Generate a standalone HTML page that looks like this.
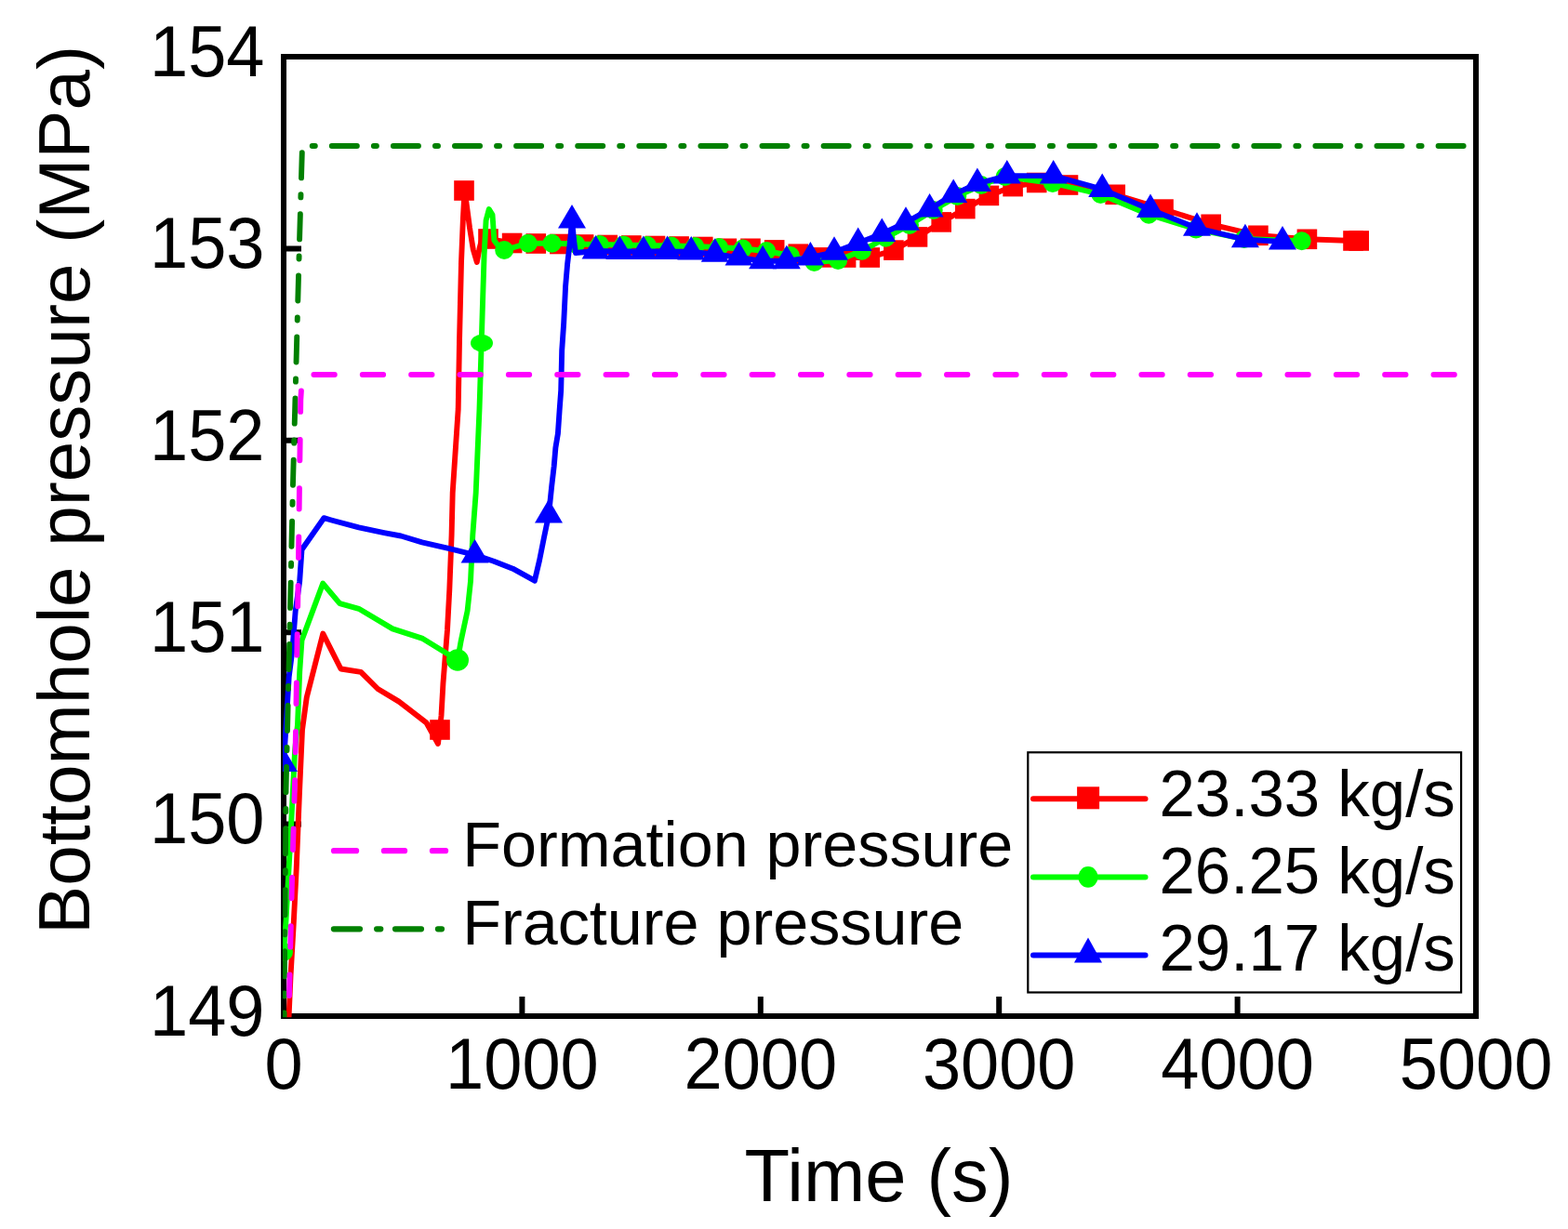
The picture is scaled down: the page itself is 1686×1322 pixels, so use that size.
<!DOCTYPE html><html><head><meta charset="utf-8"><title>Bottomhole pressure vs time</title><style>html,body{margin:0;padding:0;background:#fff;}svg{display:block;}text{font-family:"Liberation Sans",Arial,sans-serif;fill:#000;}</style></head><body>
<svg width="1686" height="1322" viewBox="0 0 1686 1322">
<rect width="1686" height="1322" fill="#fff"/>
<rect x="305" y="61" width="1282" height="1032" fill="none" stroke="#000" stroke-width="6"/>
<path d="M305 61H324 M305 1093V1072 M305 267.4H324 M561.4 1093V1072 M305 473.8H324 M817.8 1093V1072 M305 680.2H324 M1074.2 1093V1072 M305 886.6H324 M1330.6 1093V1072 M305 1093H324 M1587 1093V1072" stroke="#000" stroke-width="6" fill="none"/>
<defs><clipPath id="pa"><rect x="304.1" y="59.8" width="1284" height="1034.5"/></clipPath></defs>
<g clip-path="url(#pa)" stroke-linejoin="round" stroke-linecap="butt">
<polyline points="310.3,1100 312.5,1050 315.5,998 318.7,934.5 321.9,855 325,785 329.8,750 347.3,681.6 366.5,719.5 388,722.9 406.2,741 428.9,754.6 458.4,777.3 471,800 474.5,770 476.5,734.2 481,677.5 483.3,634.4 485.6,575.4 486.7,530 492.7,440 494,366.8 496,282.3 498,233.1 499.5,206 501.5,218.3 505,245 508.8,268.5 512.8,282 515.7,266.5 518,258 525,257 550.6,261.5 576.3,262 601.9,262.5 627.6,263 653.2,263.5 678.8,264 704.5,264.5 730.1,265 755.8,265.5 781.4,267.3 807,267.3 832.7,268.9 858.3,273.2 884,276.9 909.6,277 935.2,277 960.9,269.1 986.5,254.9 1012.2,238.9 1037.8,224.6 1063.4,210.4 1089.1,200.6 1114.7,196.5 1148.5,199 1199.2,209.3 1251,225.1 1302.2,241.3 1352.9,253.3 1405.4,257.3 1455,259 1461.2,259" fill="none" stroke="#ff0000" stroke-width="5.9"/>
<g><rect x="462.2" y="774.2" width="21.6" height="21.6" fill="#ff0000"/><rect x="488.2" y="194.2" width="21.6" height="21.6" fill="#ff0000"/><rect x="514.2" y="246.2" width="21.6" height="21.6" fill="#ff0000"/><rect x="539.8" y="250.7" width="21.6" height="21.6" fill="#ff0000"/><rect x="565.5" y="251.2" width="21.6" height="21.6" fill="#ff0000"/><rect x="591.1" y="251.7" width="21.6" height="21.6" fill="#ff0000"/><rect x="616.8" y="252.2" width="21.6" height="21.6" fill="#ff0000"/><rect x="642.4" y="252.7" width="21.6" height="21.6" fill="#ff0000"/><rect x="668" y="253.2" width="21.6" height="21.6" fill="#ff0000"/><rect x="693.7" y="253.7" width="21.6" height="21.6" fill="#ff0000"/><rect x="719.3" y="254.2" width="21.6" height="21.6" fill="#ff0000"/><rect x="745" y="254.7" width="21.6" height="21.6" fill="#ff0000"/><rect x="770.6" y="256.5" width="21.6" height="21.6" fill="#ff0000"/><rect x="796.2" y="256.5" width="21.6" height="21.6" fill="#ff0000"/><rect x="821.9" y="258.1" width="21.6" height="21.6" fill="#ff0000"/><rect x="847.5" y="262.4" width="21.6" height="21.6" fill="#ff0000"/><rect x="873.2" y="266.1" width="21.6" height="21.6" fill="#ff0000"/><rect x="898.8" y="266.2" width="21.6" height="21.6" fill="#ff0000"/><rect x="924.4" y="266.2" width="21.6" height="21.6" fill="#ff0000"/><rect x="950.1" y="258.3" width="21.6" height="21.6" fill="#ff0000"/><rect x="975.7" y="244.1" width="21.6" height="21.6" fill="#ff0000"/><rect x="1001.4" y="228.1" width="21.6" height="21.6" fill="#ff0000"/><rect x="1027" y="213.8" width="21.6" height="21.6" fill="#ff0000"/><rect x="1052.6" y="199.6" width="21.6" height="21.6" fill="#ff0000"/><rect x="1078.3" y="189.8" width="21.6" height="21.6" fill="#ff0000"/><rect x="1103.9" y="185.7" width="21.6" height="21.6" fill="#ff0000"/><rect x="1137.7" y="188.2" width="21.6" height="21.6" fill="#ff0000"/><rect x="1188.4" y="198.5" width="21.6" height="21.6" fill="#ff0000"/><rect x="1240.2" y="214.3" width="21.6" height="21.6" fill="#ff0000"/><rect x="1291.4" y="230.5" width="21.6" height="21.6" fill="#ff0000"/><rect x="1342.1" y="242.5" width="21.6" height="21.6" fill="#ff0000"/><rect x="1394.6" y="246.5" width="21.6" height="21.6" fill="#ff0000"/><rect x="1444.2" y="248.2" width="21.6" height="21.6" fill="#ff0000"/><rect x="1450.4" y="248.2" width="21.6" height="21.6" fill="#ff0000"/></g>
<polyline points="305,1024 307.5,990 312.3,902.7 317.1,807 320,779.6 322.2,722.9 324.5,688.8 347.2,627.6 365.3,649.1 385.8,654.8 422.1,676.4 453.8,686.6 492,710 495.8,688.8 502.6,657 506,625.3 508.3,575.4 511.7,530 515.5,440 517.7,368.8 518.7,335.4 520.6,274.4 522.6,237 525.8,225 529.5,231 531.4,258.7 535.4,264 542.2,269 567.8,261.7 593.5,261.7 619.1,262.5 644.8,263 670.4,263.5 696,264 721.7,264.5 747.3,265 773,266 798.6,267.5 824.2,270 849.9,275 875.5,282 901.1,280 926.8,269.8 952.4,255.8 978,242 1003.7,226 1029.3,211 1055,199 1080.6,190 1131.9,197 1183.4,209 1235.2,230.7 1286,246.5 1337.8,257 1399.7,259.3" fill="none" stroke="#00ff00" stroke-width="5.9"/>
<g><circle cx="305" cy="1024" r="10" fill="#00ff00"/><circle cx="542.2" cy="269" r="10" fill="#00ff00"/><circle cx="567.8" cy="261.7" r="10" fill="#00ff00"/><circle cx="593.5" cy="261.7" r="10" fill="#00ff00"/><circle cx="619.1" cy="262.5" r="10" fill="#00ff00"/><circle cx="644.8" cy="263" r="10" fill="#00ff00"/><circle cx="670.4" cy="263.5" r="10" fill="#00ff00"/><circle cx="696" cy="264" r="10" fill="#00ff00"/><circle cx="721.7" cy="264.5" r="10" fill="#00ff00"/><circle cx="747.3" cy="265" r="10" fill="#00ff00"/><circle cx="773" cy="266" r="10" fill="#00ff00"/><circle cx="798.6" cy="267.5" r="10" fill="#00ff00"/><circle cx="824.2" cy="270" r="10" fill="#00ff00"/><circle cx="849.9" cy="275" r="10" fill="#00ff00"/><circle cx="875.5" cy="282" r="10" fill="#00ff00"/><circle cx="901.1" cy="280" r="10" fill="#00ff00"/><circle cx="926.8" cy="269.8" r="10" fill="#00ff00"/><circle cx="952.4" cy="255.8" r="10" fill="#00ff00"/><circle cx="978" cy="242" r="10" fill="#00ff00"/><circle cx="1003.7" cy="226" r="10" fill="#00ff00"/><circle cx="1029.3" cy="211" r="10" fill="#00ff00"/><circle cx="1055" cy="199" r="10" fill="#00ff00"/><circle cx="1080.6" cy="190" r="10" fill="#00ff00"/><circle cx="1131.9" cy="197" r="10" fill="#00ff00"/><circle cx="1183.4" cy="209" r="10" fill="#00ff00"/><circle cx="1235.2" cy="230.7" r="10" fill="#00ff00"/><circle cx="1286" cy="246.5" r="10" fill="#00ff00"/><circle cx="1337.8" cy="257" r="10" fill="#00ff00"/><circle cx="1399.7" cy="259.3" r="10" fill="#00ff00"/><ellipse cx="492" cy="710" rx="12" ry="11.8" fill="#00ff00"/><ellipse cx="518" cy="369" rx="12" ry="9.2" fill="#00ff00"/></g>
<polyline points="305,821.5 307,790 310.7,728 314.3,700 317.7,657 322.2,625.3 324.5,591.3 348.3,557.2 356.3,559.5 385.8,567.4 413,573.1 431.1,576.5 453.8,583.3 483.3,590.1 510.6,596.9 531,603.7 551.4,611.7 574.9,624.7 580,603 585,578 590,554 593.2,523 595.7,501.5 597.4,481.6 599.9,466.6 601.6,441.6 603.2,420 604.2,376.7 606.2,347.2 608.1,307.8 610.1,284.2 613.1,258.7 615,237 617.5,262 619,272 640.6,270 666.3,270.5 691.9,270.5 717.6,270.5 743.2,271 768.8,273.3 794.5,277 820.1,280.8 845.8,280.8 871.4,277 897,271.3 922.7,261.5 948.3,251.4 974,239.3 999.6,225 1025.2,209.4 1050.9,197.5 1082.8,189.1 1132.7,189.1 1185.2,203.6 1237,225.5 1287,245.3 1338.9,257.7 1379,259.9" fill="none" stroke="#0000ff" stroke-width="5.9"/>
<g><polygon points="305,804.5 320,830 290,830" fill="#0000ff"/><polygon points="510.6,579.9 525.6,605.4 495.6,605.4" fill="#0000ff"/><polygon points="590,537 605,562.5 575,562.5" fill="#0000ff"/><polygon points="615,220 630,245.5 600,245.5" fill="#0000ff"/><polygon points="640.6,253 655.6,278.5 625.6,278.5" fill="#0000ff"/><polygon points="666.3,253.5 681.3,279 651.3,279" fill="#0000ff"/><polygon points="691.9,253.5 706.9,279 676.9,279" fill="#0000ff"/><polygon points="717.6,253.5 732.6,279 702.6,279" fill="#0000ff"/><polygon points="743.2,254 758.2,279.5 728.2,279.5" fill="#0000ff"/><polygon points="768.8,256.3 783.8,281.8 753.8,281.8" fill="#0000ff"/><polygon points="794.5,260 809.5,285.5 779.5,285.5" fill="#0000ff"/><polygon points="820.1,263.8 835.1,289.3 805.1,289.3" fill="#0000ff"/><polygon points="845.8,263.8 860.8,289.3 830.8,289.3" fill="#0000ff"/><polygon points="871.4,260 886.4,285.5 856.4,285.5" fill="#0000ff"/><polygon points="897,254.3 912,279.8 882,279.8" fill="#0000ff"/><polygon points="922.7,244.5 937.7,270 907.7,270" fill="#0000ff"/><polygon points="948.3,234.4 963.3,259.9 933.3,259.9" fill="#0000ff"/><polygon points="974,222.3 989,247.8 959,247.8" fill="#0000ff"/><polygon points="999.6,208 1014.6,233.5 984.6,233.5" fill="#0000ff"/><polygon points="1025.2,192.4 1040.2,217.9 1010.2,217.9" fill="#0000ff"/><polygon points="1050.9,180.5 1065.9,206 1035.9,206" fill="#0000ff"/><polygon points="1082.8,172.1 1097.8,197.6 1067.8,197.6" fill="#0000ff"/><polygon points="1132.7,172.1 1147.7,197.6 1117.7,197.6" fill="#0000ff"/><polygon points="1185.2,186.6 1200.2,212.1 1170.2,212.1" fill="#0000ff"/><polygon points="1237,208.5 1252,234 1222,234" fill="#0000ff"/><polygon points="1287,228.3 1302,253.8 1272,253.8" fill="#0000ff"/><polygon points="1338.9,240.7 1353.9,266.2 1323.9,266.2" fill="#0000ff"/><polygon points="1379,242.9 1394,268.4 1364,268.4" fill="#0000ff"/></g>
<polyline points="305.5,1100 307.5,850 311,700 315,520 318.8,379 322,260 325,157 1590,157" fill="none" stroke="#008000" stroke-width="5.9" stroke-linecap="round" stroke-dasharray="27.1 17.95 3.1 17.95" stroke-dashoffset="16.5"/>
<polyline points="310.5,1100 311,1071 313.9,950 317.1,839 318.7,743.6 319.5,692 321,600 322,520 323.3,430 325,403 1590,403" fill="none" stroke="#ff00ff" stroke-width="5.9" stroke-linecap="round" stroke-dasharray="22.4 29.95" stroke-dashoffset="23.3"/>
</g>
<text transform="translate(284.5 81.8) scale(1 1.04)" font-size="74" text-anchor="end">154</text>
<text transform="translate(284.5 288.2) scale(1 1.04)" font-size="74" text-anchor="end">153</text>
<text transform="translate(284.5 494.6) scale(1 1.04)" font-size="74" text-anchor="end">152</text>
<text transform="translate(284.5 701) scale(1 1.04)" font-size="74" text-anchor="end">151</text>
<text transform="translate(284.5 907.4) scale(1 1.04)" font-size="74" text-anchor="end">150</text>
<text transform="translate(284.5 1113.8) scale(1 1.04)" font-size="74" text-anchor="end">149</text>
<text transform="translate(305 1171.3) scale(1 1.04)" font-size="74" text-anchor="middle">0</text>
<text transform="translate(561.4 1171.3) scale(1 1.04)" font-size="74" text-anchor="middle">1000</text>
<text transform="translate(817.8 1171.3) scale(1 1.04)" font-size="74" text-anchor="middle">2000</text>
<text transform="translate(1074.2 1171.3) scale(1 1.04)" font-size="74" text-anchor="middle">3000</text>
<text transform="translate(1330.6 1171.3) scale(1 1.04)" font-size="74" text-anchor="middle">4000</text>
<text transform="translate(1587 1171.3) scale(1 1.04)" font-size="74" text-anchor="middle">5000</text>
<text transform="translate(945 1292)" font-size="79.6" text-anchor="middle">Time (s)</text>
<text transform="translate(95.7 527) rotate(-90)" font-size="78.2" text-anchor="middle">Bottomhole pressure (MPa)</text>
<path d="M359 915.2H383.1M412.9 915.2H435.1M464.9 915.2H479.1" stroke="#ff00ff" stroke-width="6.2" stroke-linecap="round"/>
<path d="M358.9 999.3H387M405.1 999.3H409.3M425 999.3H453M470.9 999.3H475" stroke="#008000" stroke-width="6.2" stroke-linecap="round"/>
<text transform="translate(497.2 931.9)" font-size="68.3" text-anchor="start">Formation pressure</text>
<text transform="translate(497.2 1016.3)" font-size="68.3" text-anchor="start">Fracture pressure</text>
<rect x="1105.3" y="809.3" width="465.8" height="258.2" fill="#fff" stroke="#000" stroke-width="2.2"/>
<line x1="1111" y1="859.3" x2="1231.5" y2="859.3" stroke="#ff0000" stroke-width="6" stroke-linecap="round"/>
<rect x="1158.1" y="846.3" width="24" height="24" fill="#ff0000"/>
<text transform="translate(1246.5 877.7) scale(1 1.02)" font-size="69" text-anchor="start">23.33 kg/s</text>
<line x1="1111" y1="943.4" x2="1231.5" y2="943.4" stroke="#00ff00" stroke-width="6" stroke-linecap="round"/>
<ellipse cx="1170" cy="943.4" rx="10.5" ry="11.3" fill="#00ff00"/>
<text transform="translate(1246.5 960.9) scale(1 1.02)" font-size="69" text-anchor="start">26.25 kg/s</text>
<line x1="1111" y1="1027.5" x2="1231.5" y2="1027.5" stroke="#0000ff" stroke-width="6" stroke-linecap="round"/>
<polygon points="1170,1008.5 1185,1035.5 1155,1035.5" fill="#0000ff"/>
<text transform="translate(1246.5 1044.1) scale(1 1.02)" font-size="69" text-anchor="start">29.17 kg/s</text>
</svg></body></html>
